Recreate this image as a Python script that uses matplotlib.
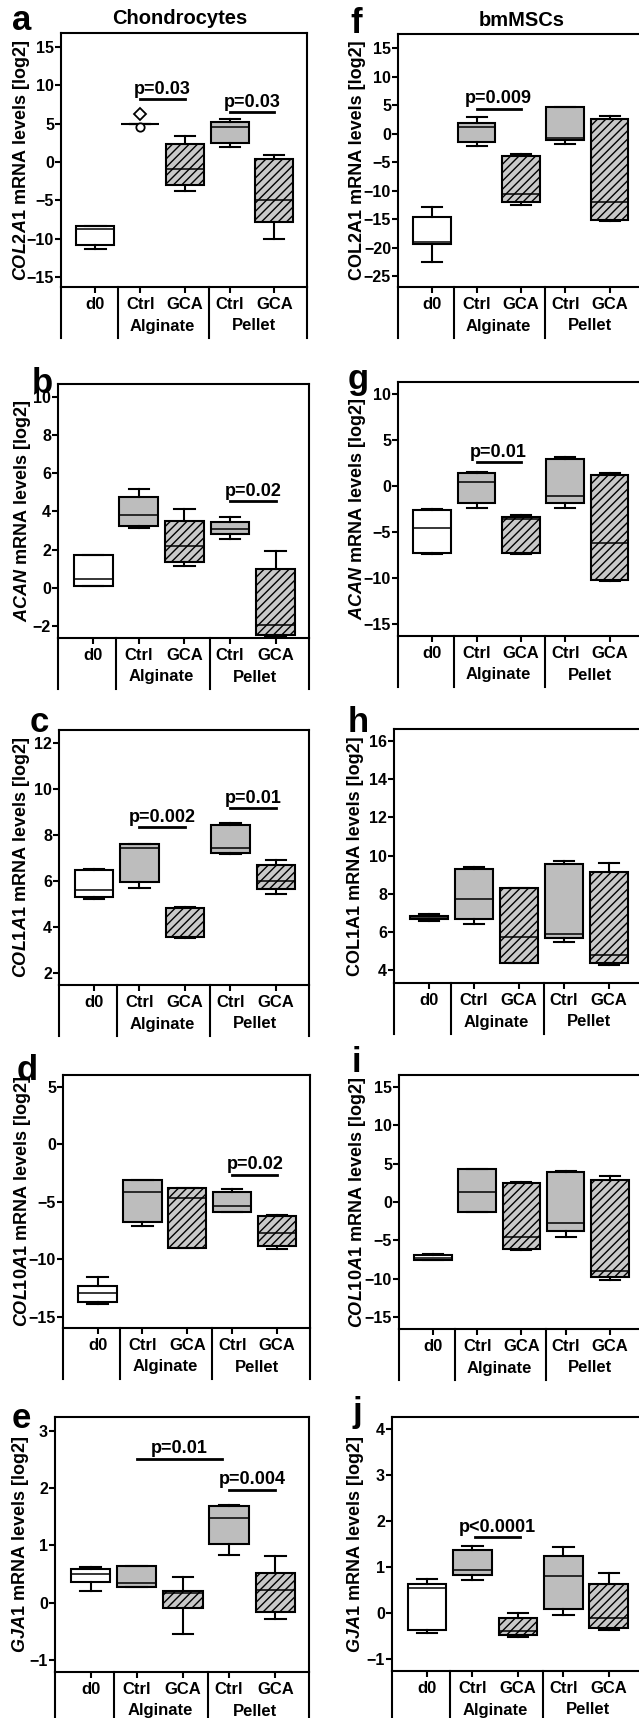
import matplotlib.pyplot as plt
from matplotlib.transforms import blended_transform_factory

plt.rcParams['font.family'] = ['Liberation Sans', 'DejaVu Sans']
plt.rcParams['font.weight'] = 'bold'
plt.rcParams['mathtext.fontset'] = 'custom'
plt.rcParams['mathtext.it'] = 'Liberation Sans:italic:bold'
plt.rcParams['mathtext.rm'] = 'Liberation Sans:bold'
plt.rcParams['mathtext.bf'] = 'Liberation Sans:bold'
plt.rcParams['hatch.linewidth'] = 1.0

W, H = 639, 1718

groups = ['d0', 'Ctrl', 'GCA', 'Ctrl', 'GCA']
cultures = ['Alginate', 'Pellet']

# box stats per group: (whisker low, q1, median, q3, whisker high)
col2a1_ch = [(-11.3, -10.85, -8.7, -8.4, -8.4), (5.0, 5.0, 5.0, 5.0, 5.0),
             (-3.77, -3.07, -0.86, 2.4, 3.35), (1.88, 2.49, 4.57, 5.14, 5.53),
             (-9.98, -7.82, -5.0, 0.32, 0.88)]
acan_ch = [(0.1, 0.1, 0.45, 1.71, 1.71), (3.14, 3.23, 3.84, 4.76, 5.2),
           (1.15, 1.36, 2.18, 3.49, 4.15), (2.55, 2.84, 3.07, 3.46, 3.72),
           (-2.5, -2.48, -1.95, 0.99, 1.94)]
col1a1_ch = [(5.21, 5.31, 5.6, 6.48, 6.52), (5.71, 5.97, 7.42, 7.6, 7.6),
             (3.54, 3.55, 3.55, 4.81, 4.88), (7.16, 7.23, 7.42, 8.42, 8.51),
             (5.43, 5.65, 6.01, 6.72, 6.91)]
col10a1_ch = [(-13.87, -13.66, -12.94, -12.35, -11.54), (-7.06, -6.77, -4.16, -3.05, -3.05),
              (-9.01, -9.01, -4.65, -3.78, -3.78), (-5.9, -5.9, -5.32, -4.16, -3.87),
              (-9.1, -8.81, -7.7, -6.25, -6.1)]
gja1_ch = [(0.2, 0.36, 0.5, 0.58, 0.63), (0.27, 0.28, 0.34, 0.64, 0.64),
           (-0.54, -0.1, 0.17, 0.2, 0.45), (0.84, 1.02, 1.48, 1.69, 1.7),
           (-0.28, -0.16, 0.22, 0.52, 0.81)]

col2a1_ms = [(-22.5, -19.42, -18.95, -14.62, -12.87), (-2.16, -1.4, 1.17, 1.93, 2.92),
             (-12.57, -11.99, -10.5, -3.92, -3.63), (-1.75, -1.17, -0.7, 4.68, 4.68),
             (-15.4, -15.2, -11.99, 2.57, 3.1)]
acan_ms = [(-7.43, -7.28, -4.53, -2.57, -2.46), (-2.36, -1.81, 0.43, 1.41, 1.52),
           (-7.36, -7.25, -3.55, -3.37, -3.12), (-2.39, -1.81, -1.09, 2.97, 3.15),
           (-10.36, -10.25, -6.2, 1.16, 1.41)]
col1a1_ms = [(6.57, 6.65, 6.76, 6.85, 6.93), (6.41, 6.65, 7.74, 9.31, 9.38),
             (4.35, 4.38, 5.71, 8.3, 8.3), (5.45, 5.66, 5.89, 9.54, 9.71),
             (4.26, 4.38, 4.79, 9.14, 9.59)]
col10a1_ms = [(-7.6, -7.52, -7.3, -6.91, -6.74), (-1.3, -1.3, 1.3, 4.3, 4.3),
              (-6.3, -6.13, -4.6, 2.48, 2.57), (-4.6, -3.83, -2.74, 3.96, 4.09),
              (-10.13, -9.83, -9.04, 2.91, 3.35)]
gja1_ms = [(-0.44, -0.36, 0.55, 0.62, 0.73), (0.71, 0.83, 0.93, 1.38, 1.46),
           (-0.52, -0.47, -0.38, -0.1, -0.01), (-0.05, 0.08, 0.8, 1.24, 1.44),
           (-0.36, -0.32, -0.1, 0.64, 0.88)]

# outliers in panel a (Alginate Ctrl)
outlier_x = [1, 1]
outlier_y = [6.3, 4.6]
outlier_marker = ['D', 'o']

# significance bars: (x from, x to, y, label)
sig_a = [(1, 2, 8.14, 'p=0.03'), (3, 4, 6.5, 'p=0.03')]
sig_b = [(3, 4, 4.55, 'p=0.02')]
sig_c = [(1, 2, 8.34, 'p=0.002'), (3, 4, 9.17, 'p=0.01')]
sig_d = [(3, 4, -2.62, 'p=0.02')]
sig_e = [(1, 2.85, 2.51, 'p=0.01'), (3, 4, 1.97, 'p=0.004')]
sig_f = [(1, 2, 4.39, 'p=0.009')]
sig_g = [(1, 2, 2.61, 'p=0.01')]
sig_j = [(1.05, 2.05, 1.65, 'p<0.0001')]

lab_mrna = ' mRNA levels [log2]'

panels = [
    # letter, stats, sigs, ylim, yticks, ylabel, axes px (L, T, R, B), ylabel x px, letter px
    ('a', col2a1_ch, sig_a, (-16.3, 16.8), range(-15, 16, 5), r'$\mathit{COL2A1}$' + lab_mrna,
     (61, 33, 307, 287), 22, (12, 30)),
    ('b', acan_ch, sig_b, (-2.63, 10.68), range(-2, 11, 2), r'$\mathit{ACAN}$' + lab_mrna,
     (58, 384, 309, 638), 23, (32, 393)),
    ('c', col1a1_ch, sig_c, (1.48, 12.57), range(2, 13, 2), r'$\mathit{COL1A1}$' + lab_mrna,
     (59, 730, 309, 985), 22, (30, 732)),
    ('d', col10a1_ch, sig_d, (-15.96, 6.04), range(-15, 6, 5), r'$\mathit{COL10A1}$' + lab_mrna,
     (63, 1075, 310, 1328), 23, (17, 1080)),
    ('e', gja1_ch, sig_e, (-1.21, 3.24), range(-1, 4, 1), r'$\mathit{GJA1}$' + lab_mrna,
     (55, 1417, 309, 1672), 21, (12, 1428)),
    ('f', col2a1_ms, sig_f, (-26.9, 17.5), range(-25, 16, 5), 'COL2A1' + lab_mrna,
     (398, 34, 642, 287), 357, (350, 33)),
    ('g', acan_ms, sig_g, (-16.3, 11.3), range(-15, 11, 5), r'$\mathit{ACAN}$' + lab_mrna,
     (398, 382, 642, 636), 357, (348, 389)),
    ('h', col1a1_ms, [], (3.32, 16.63), range(4, 17, 2), 'COL1A1' + lab_mrna,
     (394, 729, 642, 983), 355, (348, 732)),
    ('i', col10a1_ms, [], (-16.6, 16.6), range(-15, 16, 5), r'$\mathit{COL10A1}$' + lab_mrna,
     (399, 1075, 642, 1329), 357, (352, 1072)),
    ('j', gja1_ms, sig_j, (-1.26, 4.26), range(-1, 5, 1), r'$\mathit{GJA1}$' + lab_mrna,
     (392, 1417, 642, 1671), 355, (353, 1422)),
]

face = ['white', '#bdbdbd', '#c8c8c8', '#bdbdbd', '#c8c8c8']
hatch = [None, None, '////', None, '////']

fig = plt.figure(figsize=(W / 100, H / 100), dpi=100)

for letter, stats, sigs, ylim, yticks, ylabel, (L, T, R, B), ylab_x, (lx, ly) in panels:
    ax = fig.add_axes([L / W, 1 - B / H, (R - L) / W, (B - T) / H])
    hpx = B - T
    bxp_stats = [dict(whislo=s[0], q1=s[1], med=s[2], q3=s[3], whishi=s[4], fliers=[])
                 for s in stats]
    res = ax.bxp(bxp_stats, positions=range(5), widths=0.85, capwidths=0.45,
                 patch_artist=True, showfliers=False,
                 boxprops=dict(linewidth=1.5, edgecolor='black'),
                 medianprops=dict(color='black', linewidth=1.1),
                 whiskerprops=dict(color='black', linewidth=1.5),
                 capprops=dict(color='black', linewidth=1.5))
    for patch, fc, ht in zip(res['boxes'], face, hatch):
        patch.set_facecolor(fc)
        if ht:
            patch.set_hatch(ht)

    if letter == 'a':
        for x, y, m in zip(outlier_x, outlier_y, outlier_marker):
            ax.plot(x, y, marker=m, markersize=6, markerfacecolor='white',
                    markeredgecolor='black', markeredgewidth=1.3, zorder=4)

    for x0, x1, y, txt in sigs:
        ax.plot([x0, x1], [y, y], color='black', linewidth=2)
        ax.annotate(txt, xy=((x0 + x1) / 2, y), xytext=(0, 1), textcoords='offset points',
                    ha='center', va='bottom', fontsize=13, fontweight='bold')

    ax.set_xlim(-0.77, 4.73)
    ax.set_ylim(*ylim)
    ax.set_yticks(list(yticks))
    ax.set_xticks(range(5))
    ax.set_xticklabels(groups)
    for sp in ax.spines.values():
        sp.set_linewidth(1.5)
    ax.tick_params(axis='y', direction='out', length=4, width=1.5, pad=1, labelsize=11.5)
    ax.tick_params(axis='x', direction='out', length=4, width=1.5, pad=3, labelsize=12)

    # category box below the axes
    trans = blended_transform_factory(ax.transData, ax.transAxes)
    depth = -51 / hpx
    for xs in [0.5, 2.55]:
        ax.plot([xs, xs], [0, depth], color='black', linewidth=1.5, transform=trans,
                clip_on=False)
    for xs in [0, 1]:
        ax.plot([xs, xs], [0, depth], color='black', linewidth=1.5,
                transform=ax.transAxes, clip_on=False)
    ax.text(1.5, -39 / hpx, cultures[0], transform=trans, ha='center', va='center',
            fontsize=12)
    ax.text(3.55, -39 / hpx, cultures[1], transform=trans, ha='center', va='center',
            fontsize=12)

    ax.text((ylab_x - L) / (R - L), 0.5, ylabel, transform=ax.transAxes, rotation=90,
            ha='center', va='center', fontsize=13)

    fig.text(lx / W, 1 - ly / H, letter, ha='left', va='baseline', fontsize=25)

fig.text(180 / W, 1 - 18 / H, 'Chondrocytes', ha='center', va='center', fontsize=14.5)
fig.text(522 / W, 1 - 20 / H, 'bmMSCs', ha='center', va='center', fontsize=14.5)

fig.savefig('out.png', dpi=100)
